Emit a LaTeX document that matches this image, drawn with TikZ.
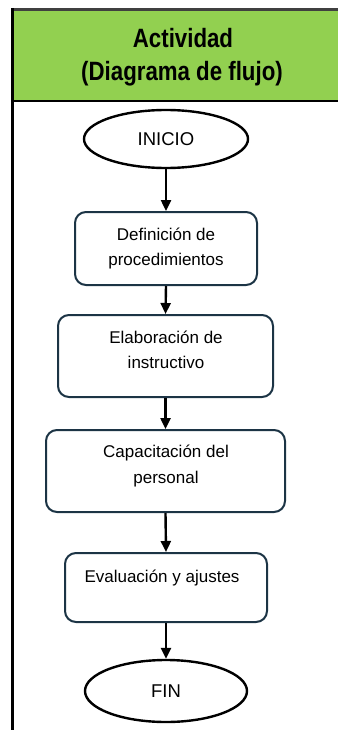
\documentclass[tikz,border=0pt]{standalone}
\usepackage{fontspec}
\setmainfont{Liberation Sans}
\usetikzlibrary{shapes.geometric,arrows.meta}
\definecolor{hdrgreen}{HTML}{92D050}
\definecolor{boxline}{HTML}{1C3445}
\tikzset{
  pbox/.style={draw=boxline,line width=2pt,rounded corners=11pt,fill=white,inner sep=0pt},
  term/.style={draw=black,line width=2.4pt,ellipse,fill=white,inner sep=0pt,font=\fontsize{18.5}{20}\selectfont},
  btext/.style={align=center,inner sep=0pt,font=\fontsize{17}{25}\selectfont},
  flow/.style={line width=2.4pt,-{Triangle[length=11pt,width=10pt]}},
  htext/.style={inner sep=0pt,font=\bfseries\fontsize{26.5}{35}\selectfont}
}
\begin{document}
\begin{tikzpicture}[x=1pt,y=-1pt]
\useasboundingbox (0,0) rectangle (338,730);
% header
\fill[hdrgreen] (14,11) rectangle (338,101);
\draw[line width=3pt,black!75] (11,9.5) -- (338,9.5);
\draw[line width=2.5pt,black] (14,101) -- (338,101);
\draw[line width=3pt,black] (12.5,8) -- (12.5,730);
\node[htext] (h1) at (183,38) {\scalebox{0.84}[1]{Actividad}};
\node[htext] (h2) at (182,74) {\scalebox{0.84}[1]{(Diagrama de flujo)}};
% flow
\node[term,minimum width=164pt,minimum height=58pt] (ini) at (166,139) {INICIO};
\node[pbox,minimum width=182pt,minimum height=73pt] (b1) at (166,248.5) {};
\node[pbox,minimum width=215pt,minimum height=82pt] (b2) at (165.5,356) {};
\node[pbox,minimum width=239pt,minimum height=82pt] (b3) at (165.5,471) {};
\node[pbox,minimum width=202pt,minimum height=69pt] (b4) at (166,587.5) {};
\node[term,minimum width=162pt,minimum height=62pt] (fin) at (166,691) {FIN};
\node[btext] (t1) at (166,249) {Definición de\\procedimientos};
\node[btext] (t2) at (166,350) {Elaboración de\\instructivo};
\node[btext] (t3) at (166,466) {Capacitación del\\personal};
\node[btext] (t4) at (162,578) {Evaluación y ajustes};
\draw[flow] (ini.south) -- (b1.north);
\draw[flow] (b1.south) -- (b2.north);
\draw[flow] (b2.south) -- (b3.north);
\draw[flow] (b3.south) -- (b4.north);
\draw[flow] (b4.south) -- (fin.north);
\end{tikzpicture}
\end{document}
